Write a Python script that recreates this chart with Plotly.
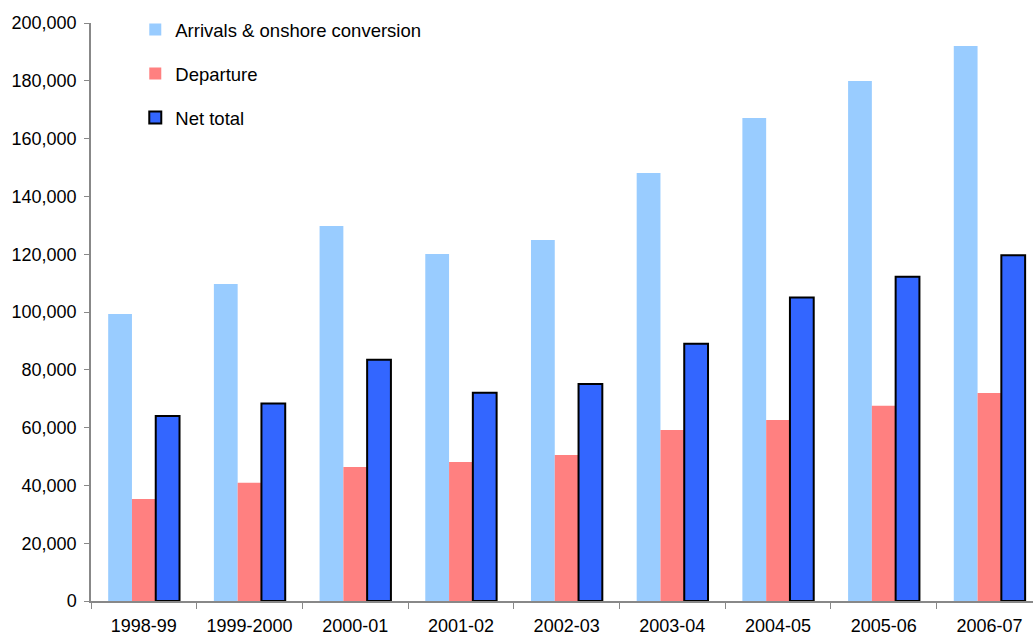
import plotly.graph_objects as go

years = ["1998-99", "1999-2000", "2000-01", "2001-02", "2002-03",
         "2003-04", "2004-05", "2005-06", "2006-07"]
arrivals = [99300, 109700, 129800, 120100, 124900, 148100, 167100, 179900, 192000]
departure = [35300, 40900, 46400, 48100, 50500, 59200, 62600, 67600, 72000]
net_total = [64000, 68300, 83500, 72100, 75100, 89000, 105000, 112200, 119600]

FONT = "Liberation Sans, Arial, sans-serif"

fig = go.Figure()
fig.add_trace(go.Bar(
    x=years, y=arrivals, name="Arrivals & onshore conversion",
    marker=dict(color="#99CCFF", line=dict(width=0)), legendgroup="a"))
fig.add_trace(go.Bar(
    x=years, y=departure, name="Departure",
    marker=dict(color="#FF8080", line=dict(width=0)), legendgroup="b"))
fig.add_trace(go.Bar(
    x=years, y=net_total, name="Net total",
    marker=dict(color="#3366FF", line=dict(color="#000000", width=2)),
    legendgroup="c"))

fig.update_layout(
    width=1033, height=637,
    margin=dict(l=91, r=0, t=23, b=36),
    paper_bgcolor="white", plot_bgcolor="white",
    barmode="group", bargap=0.325, bargroupgap=0,
    font=dict(family=FONT, size=18, color="#000000"),
    showlegend=True,
    legend=dict(
        x=0.047, y=1.021, xanchor="left", yanchor="top",
        traceorder="grouped", tracegroupgap=17,
        bgcolor="rgba(0,0,0,0)", font=dict(size=18.5),
    ),
    xaxis=dict(
        type="category",
        range=[-0.5, 8.412], showgrid=False, zeroline=False,
        showline=True, linecolor="#888888", linewidth=1.5,
        ticks="outside", ticklen=6, tickcolor="#888888",
        tickson="boundaries", ticklabelstandoff=8, tickfont=dict(size=18),
    ),
    yaxis=dict(
        range=[0, 200000], dtick=20000, tickformat=",",
        showgrid=False, zeroline=False,
        showline=True, linecolor="#888888", linewidth=1.5,
        ticks="outside", ticklen=5, tickcolor="#888888",
        ticklabelstandoff=4, tickfont=dict(size=18),
    ),
)

fig.write_html("out.html")
